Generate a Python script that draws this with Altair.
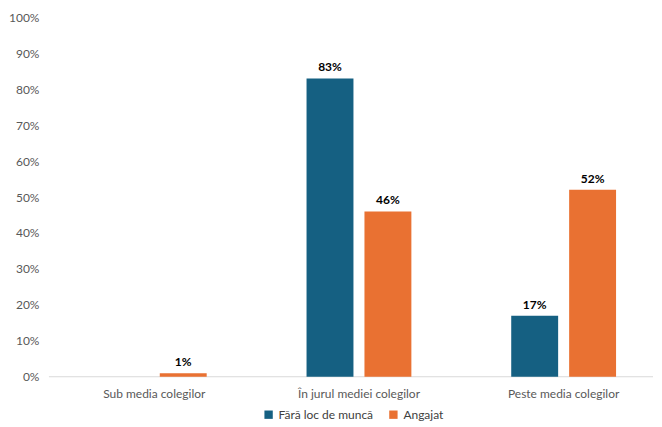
import altair as alt
import pandas as pd

categories = ["Sub media colegilor", "În jurul mediei colegilor", "Peste media colegilor"]
series = ["Fără loc de muncă", "Angajat"]
fara_loc = [0, 83, 17]
angajat = [1, 46, 52]
y_ticks = [0, 0.1, 0.2, 0.3, 0.4, 0.5, 0.6, 0.7, 0.8, 0.9, 1.0]

rows = []
for i, c in enumerate(categories):
    rows.append({"cat": c, "ser": series[0], "val": fara_loc[i] / 100})
    rows.append({"cat": c, "ser": series[1], "val": angajat[i] / 100})
df = pd.DataFrame(rows)
cat_df = pd.DataFrame({"cat": categories})

W, H = 605, 360
FONT = "Lato"
x = alt.X("cat:N", sort=categories, title=None,
          scale=alt.Scale(range=[3, 618], paddingInner=0, paddingOuter=0),
          axis=None)
xo = alt.XOffset("ser:N", sort=series,
                 scale=alt.Scale(paddingInner=0.19, paddingOuter=0.862))
y = alt.Y("val:Q", title=None,
          scale=alt.Scale(domain=[0, 1]),
          axis=alt.Axis(format=".0%", values=y_ticks, labelOverlap=False,
                        domain=False, ticks=False, grid=False, labelColor="#595959",
                        labelFontSize=12, labelPadding=10, labelFont=FONT))
color = alt.Color("ser:N", sort=series, title=None,
                  scale=alt.Scale(domain=series, range=["#156082", "#E97132"]),
                  legend=alt.Legend(orient="none", legendX=214, legendY=392,
                                    direction="horizontal", symbolType="square",
                                    symbolSize=70, labelFontSize=12, labelColor="#404040",
                                    labelFont=FONT, columnPadding=14))

baseline = alt.Chart(pd.DataFrame({"v": [0]})).mark_rule(color="#D9D9D9", strokeWidth=1).encode(
    x=alt.value(0), x2=alt.value(W), y=alt.value(H))
bars = alt.Chart(df).mark_bar().encode(x=x, xOffset=xo, y=y, color=color)
labels = alt.Chart(df).transform_filter("datum.val > 0").mark_text(
    dy=-11, fontWeight="bold", fontSize=12, color="#000000", font=FONT
).encode(x=x, xOffset=xo, y=y, text=alt.Text("val:Q", format=".0%"))
xlabels = alt.Chart(cat_df).mark_text(
    fontSize=12, color="#595959", font=FONT, baseline="middle"
).encode(x=x, y=alt.value(H + 17), text="cat:N")

chart = (baseline + bars + labels + xlabels).properties(
    width=W, height=H,
    padding={"left": 0, "top": 3, "right": 0, "bottom": 0}
).configure_view(stroke=None)
chart.save("out.html", embed_options={"renderer": "svg", "actions": False})
